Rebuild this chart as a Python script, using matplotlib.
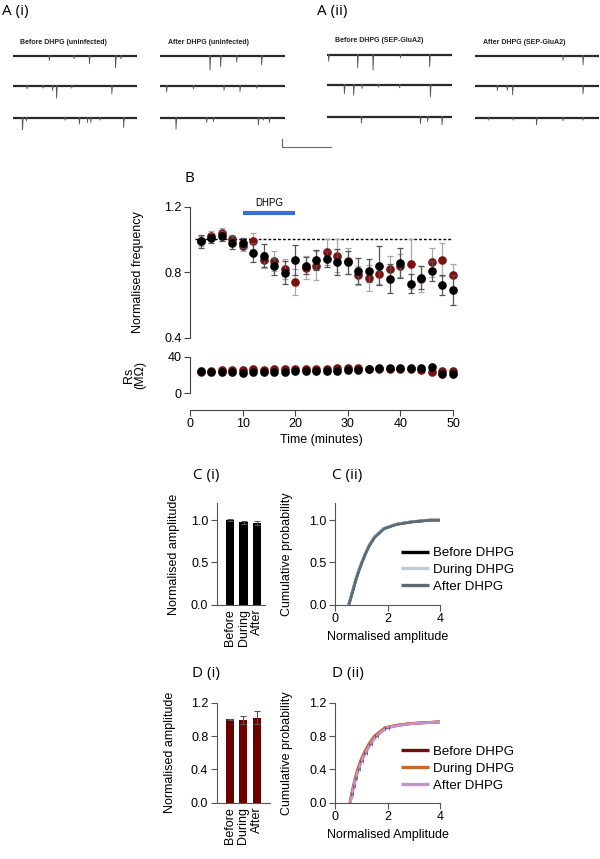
import matplotlib
matplotlib.use('Agg')
import matplotlib.pyplot as plt
import numpy as np

plt.rcParams['font.family'] = ['Liberation Sans', 'DejaVu Sans']
plt.rcParams['axes.linewidth'] = 0.8

W, H = 600, 859
fig = plt.figure(figsize=(6, 8.59), dpi=100)


def rect(l, t, r, b):
    return [l / W, 1 - b / H, (r - l) / W, (b - t) / H]


# ---------------- DATA ----------------
# Panel A: synaptic events per sweep (position within sweep 0-1, amplitude in pA)
a1_before = [
    [(0.292, 15), (0.492, 10), (0.616, 25), (0.827, 37), (0.870, 10)],
    [(0.114, 10), (0.243, 8), (0.319, 15), (0.351, 38), (0.473, 8), (0.797, 25)],
    [(0.076, 47), (0.108, 10), (0.419, 8), (0.535, 20), (0.600, 15), (0.627, 15), (0.703, 8), (0.892, 30)],
]
a1_after = [
    [(0.400, 44), (0.485, 34), (0.613, 20), (0.813, 28)],
    [(0.053, 20), (0.267, 10), (0.512, 15), (0.640, 18), (0.773, 8)],
    [(0.128, 35), (0.373, 15), (0.427, 12), (0.787, 22), (0.827, 8), (0.875, 15)],
]
a2_before = [
    [(0.013, 20), (0.245, 40), (0.368, 47), (0.587, 10), (0.821, 37)],
    [(0.139, 28), (0.213, 32), (0.280, 12), (0.413, 8), (0.581, 10), (0.827, 37)],
    [(0.275, 20), (0.747, 22), (0.805, 15), (0.920, 25)],
]
a2_after = [
    [(0.710, 15), (0.871, 28)],
    [(0.180, 15), (0.260, 15), (0.303, 28), (0.871, 25)],
    [(0.107, 8), (0.308, 8), (0.496, 22), (0.710, 10), (0.871, 8)],
]
trace_titles = ["Before DHPG (uninfected)", "After DHPG (uninfected)",
                "Before DHPG (SEP-GluA2)", "After DHPG (SEP-GluA2)"]
row_offsets = [0, -90, -186]

# Panel B
time_min = [2, 4, 6, 8, 10, 12, 14, 16, 18, 20, 22, 24, 26, 28, 30, 32, 34, 36, 38, 40, 42, 44, 46, 48, 50]
freq_black = [0.99, 1.01, 1.02, 0.98, 0.976, 0.92, 0.90, 0.835, 0.797, 0.874, 0.84, 0.876, 0.88, 0.86,
              0.86, 0.807, 0.81, 0.84, 0.76, 0.856, 0.73, 0.766, 0.807, 0.72, 0.69]
freq_black_err = [0.04, 0.03, 0.03, 0.04, 0.03, 0.06, 0.07, 0.05, 0.07, 0.09, 0.05, 0.06, 0.05, 0.08,
                  0.07, 0.08, 0.07, 0.12, 0.09, 0.09, 0.06, 0.07, 0.06, 0.06, 0.09]
freq_red = [0.99, 1.02, 1.04, 1.00, 0.96, 0.99, 0.874, 0.87, 0.82, 0.74, 0.827, 0.84, 0.925, 0.90,
            0.87, 0.78, 0.766, 0.79, 0.82, 0.84, 0.85, 0.76, 0.86, 0.876, 0.78]
freq_red_err = [0.03, 0.03, 0.03, 0.03, 0.03, 0.05, 0.05, 0.06, 0.06, 0.08, 0.07, 0.09, 0.08, 0.10,
                0.08, 0.06, 0.08, 0.06, 0.08, 0.07, 0.15, 0.08, 0.09, 0.10, 0.07]
rs_black = [24.4, 23.8, 23.0, 22.8, 22.6, 23.3, 23.3, 23.3, 23.8, 24.4, 24.4, 24.4, 24.4, 24.4,
            25.0, 25.9, 27.1, 27.5, 27.8, 27.5, 27.5, 27.8, 28.4, 21.4, 21.4]
rs_black_err = [1.0, 1.0, 1.0, 1.0, 1.0, 1.0, 1.0, 1.0, 1.0, 1.0, 1.0, 1.0, 1.0, 1.0,
                1.2, 1.5, 2.0, 2.5, 2.5, 2.5, 1.5, 1.5, 1.5, 1.2, 1.2]
rs_red = [23.0, 24.4, 25.0, 25.9, 25.9, 26.5, 25.9, 26.5, 26.5, 26.5, 26.8, 26.8, 27.1, 27.5,
          27.8, 27.8, 27.1, 26.8, 26.5, 26.8, 26.5, 25.9, 23.6, 24.7, 24.4]
rs_red_err = [1.0] * 25
dhpg_window = (10, 20)
baseline_level = 1.0

# Panel C (i) / D (i)
bar_labels = ["Before", "During", "After"]
c_amp = [1.0, 0.975, 0.965]
c_amp_err = [0.01, 0.02, 0.025]
d_amp = [1.0, 0.99, 1.02]
d_amp_err = [0.005, 0.05, 0.08]

# Panel C (ii) cumulative distributions
c_prob = [0, 0.1, 0.2, 0.3, 0.4, 0.5, 0.6, 0.7, 0.8, 0.9, 0.95, 0.98, 1.0, 1.0]
c_before = [0.52, 0.62, 0.71, 0.80, 0.90, 1.02, 1.15, 1.30, 1.50, 1.85, 2.30, 2.90, 3.6, 4.0]
c_during = [0.52, 0.61, 0.70, 0.79, 0.89, 1.01, 1.14, 1.29, 1.48, 1.83, 2.28, 2.85, 3.5, 4.0]
c_after = [0.53, 0.62, 0.71, 0.80, 0.91, 1.03, 1.16, 1.31, 1.52, 1.88, 2.35, 2.95, 3.6, 4.0]

# Panel D (ii)
d_prob = [0, 0.1, 0.2, 0.3, 0.4, 0.5, 0.6, 0.7, 0.8, 0.9, 0.93, 0.95, 0.96, 0.97]
d_before = [0.57, 0.64, 0.71, 0.79, 0.88, 0.99, 1.14, 1.32, 1.55, 1.95, 2.4, 2.9, 3.4, 4.0]
d_during = [0.57, 0.63, 0.70, 0.77, 0.86, 0.97, 1.11, 1.28, 1.50, 1.90, 2.35, 2.85, 3.4, 4.0]
d_after = [0.58, 0.65, 0.72, 0.80, 0.90, 1.01, 1.17, 1.35, 1.58, 1.98, 2.5, 3.0, 3.5, 4.0]
d_xerr = [0, 0.03, 0.03, 0.04, 0.04, 0.05, 0.05, 0.06, 0.07, 0.09, 0, 0, 0, 0]

legend_labels = ["Before DHPG", "During DHPG", "After DHPG"]
c_colors = ["#000000", "#b9cde0", "#5d6b78"]
d_colors = ["#6e0e0e", "#c8682a", "#c890cc"]

BLACK = "#000000"
RED = "#7a1212"
FS = 9
PANEL_FONT = ['Open Sans', 'DejaVu Sans']

# ---------------- PANEL A ----------------
trace_cols = [a1_before, a1_after, a2_before, a2_after]
col_rects = [(13, 40, 137, 130), (160, 40, 285, 130), (327, 39, 452, 129), (475, 40, 599, 130)]
title_pos = [(20, 43), (168, 43), (335, 40), (483, 43)]
for events, r, title, tp in zip(trace_cols, col_rects, trace_titles, title_pos):
    ax = fig.add_axes(rect(*r))
    ax.set_xlim(0, 1)
    ax.set_ylim(-223.5, 46.5)
    ax.axis('off')
    for row, off in zip(events, row_offsets):
        ax.plot([0, 1], [off, off], color='#2a2a2a', lw=1.6, solid_capstyle='butt')
        for p, a in row:
            ax.plot([p - 0.002, p, p + 0.006], [off, off - a, off], color='#555555', lw=0.6)
    fig.text(tp[0] / W, 1 - tp[1] / H, title, fontsize=5, fontweight='bold',
             ha='left', va='center', color='#222222')

# scale bar
scale_pa, scale_s = 20, 1
axs = fig.add_axes(rect(282, 139, 331, 147))
axs.set_xlim(0, scale_s)
axs.set_ylim(0, scale_pa)
axs.plot([0, 0, scale_s], [scale_pa, 0, 0], color='#666666', lw=0.8, clip_on=False)
axs.axis('off')

fig.text(2 / W, 1 - 11 / H, "A (i)", fontsize=11, family=PANEL_FONT, ha='left', va='center')
fig.text(317 / W, 1 - 11 / H, "A (ii)", fontsize=11, family=PANEL_FONT, ha='left', va='center')

# ---------------- PANEL B ----------------
axf = fig.add_axes(rect(190, 206.7, 453, 337.7))
axf.set_xlim(0, 50)
axf.set_ylim(0.4, 1.2)
for s in ['top', 'right', 'bottom']:
    axf.spines[s].set_visible(False)
axf.spines['left'].set_color('#444444')
axf.set_xticks([])
axf.set_yticks([0.4, 0.8, 1.2])
axf.set_yticklabels(['0.4', '0.8', '1.2'])
axf.tick_params(axis='y', labelsize=FS, length=4, width=0.8, color='#444444', pad=2)
axf.set_ylabel("Normalised frequency", fontsize=FS)
axf.yaxis.set_label_coords(-0.175, 0.5)
axf.hlines(baseline_level, 1, 50.5, colors='black', linestyles=(0, (2, 1.5)), lw=1.0)
axf.errorbar(time_min, freq_red, yerr=freq_red_err, fmt='o', color=RED, ms=5.2, mec=RED,
             ecolor='#a8a8a8', elinewidth=0.9, capsize=2.5, capthick=0.9, clip_on=False, zorder=3)
axf.errorbar(time_min, freq_black, yerr=freq_black_err, fmt='o', color=BLACK, ms=5.2,
             ecolor='#555555', elinewidth=0.9, capsize=2.5, capthick=0.9, clip_on=False, zorder=4)
axf.plot(dhpg_window, [1.163, 1.163], color='#3a6fd6', lw=3.0, solid_capstyle='butt', clip_on=False)
axf.text(np.mean(dhpg_window), 1.222, "DHPG", fontsize=7, ha='center', va='center')

axr = fig.add_axes(rect(190, 356.7, 453, 393.3))
axr.set_xlim(0, 50)
axr.set_ylim(0, 40)
for s in ['top', 'right']:
    axr.spines[s].set_visible(False)
axr.spines['bottom'].set_position(('outward', 12))
axr.spines['left'].set_color('#444444')
axr.spines['bottom'].set_color('#444444')
axr.set_yticks([0, 40])
axr.set_xticks([0, 10, 20, 30, 40, 50])
axr.tick_params(labelsize=FS, length=4, width=0.8, color='#444444', pad=2)
axr.set_xlabel("Time (minutes)", fontsize=FS, labelpad=3)
axr.set_ylabel("Rs\n(M\u03a9)", fontsize=FS, linespacing=1.0)
axr.yaxis.set_label_coords(-0.165, 0.5)
axr.errorbar(time_min, rs_red, yerr=rs_red_err, fmt='o', color=RED, ms=5.2,
             ecolor='#a8a8a8', elinewidth=0.9, capsize=2.5, clip_on=False, zorder=3)
axr.errorbar(time_min, rs_black, yerr=rs_black_err, fmt='o', color=BLACK, ms=5.2,
             ecolor='#555555', elinewidth=0.9, capsize=2.5, clip_on=False, zorder=4)
fig.text(185 / W, 1 - 179 / H, "B", fontsize=11, family=PANEL_FONT, ha='left', va='center')


# ---------------- PANELS C & D ----------------
def style_axes(ax):
    for s in ['top', 'right']:
        ax.spines[s].set_visible(False)
    for s in ['left', 'bottom']:
        ax.spines[s].set_color('#555555')
    ax.tick_params(labelsize=FS, length=4, width=0.8, color='#555555', pad=2)


def bar_panel(r, vals, errs, color, xmax, yticks):
    ax = fig.add_axes(rect(*r))
    x = np.arange(len(vals))
    ax.bar(x, vals, width=0.62, color=color, yerr=errs, ecolor='#555555',
           error_kw=dict(elinewidth=0.8, capsize=2, capthick=0.8))
    ax.set_xlim(-1, xmax)
    ax.set_ylim(0, 1.2)
    style_axes(ax)
    ax.set_yticks(yticks)
    ax.set_yticklabels([f"{v:.1f}" for v in yticks])
    ax.set_xticks(x)
    ax.set_xticklabels(bar_labels, rotation=90, fontsize=FS)
    ax.tick_params(axis='x', length=0, pad=3)
    ax.set_ylabel("Normalised amplitude", fontsize=FS)
    ax.yaxis.set_label_coords(-0.76, 0.5)
    return ax


def cum_panel(r, xs_list, prob, colors, yticks, xlabel, errx=None):
    ax = fig.add_axes(rect(*r))
    for xs, c, lab in zip(xs_list, colors, legend_labels):
        ax.plot(xs, prob, color=c, lw=2.0, label=lab, solid_capstyle='butt')
    if errx is not None:
        ax.errorbar(xs_list[2][1:10], prob[1:10], xerr=errx[1:10], fmt='none', ecolor='#555555',
                    elinewidth=0.5, capsize=1.2, capthick=0.5, zorder=5)
    ax.set_xlim(0, 4)
    ax.set_ylim(0, 1.2)
    style_axes(ax)
    ax.set_xticks([0, 2, 4])
    ax.set_yticks(yticks)
    ax.set_yticklabels([f"{v:.1f}" for v in yticks])
    ax.set_ylabel("Cumulative probability", fontsize=FS)
    ax.yaxis.set_label_coords(-0.4, 0.5)
    ax.set_xlabel(xlabel, fontsize=FS, labelpad=4)
    leg = ax.legend(loc='upper left', bbox_to_anchor=(0.63, 0.57), frameon=False, fontsize=9.5,
                    handlelength=2.1, handletextpad=0.3, labelspacing=0.35, borderpad=0,
                    borderaxespad=0)
    for line in leg.get_lines():
        line.set_linewidth(2.4)
    return ax


bar_panel((216.7, 503.3, 265, 604.7), c_amp, c_amp_err, BLACK, 2.6, [0.0, 0.5, 1.0])
cum_panel((335, 503.3, 440, 604.7), [c_before, c_during, c_after], c_prob, c_colors,
          [0.0, 0.5, 1.0], "Normalised amplitude")
bar_panel((216.7, 702.7, 270, 802.7), d_amp, d_amp_err, "#6b0000", 3.0, [0.0, 0.4, 0.8, 1.2])
cum_panel((335, 702.7, 440, 802.7), [d_before, d_during, d_after], d_prob, d_colors,
          [0.0, 0.4, 0.8, 1.2], "Normalised Amplitude", errx=d_xerr)

fig.text(193 / W, 1 - 476 / H, "C (i)", fontsize=11, family=PANEL_FONT, ha='left', va='center')
fig.text(332 / W, 1 - 476 / H, "C (ii)", fontsize=11, family=PANEL_FONT, ha='left', va='center')
fig.text(192 / W, 1 - 673 / H, "D (i)", fontsize=11, family=PANEL_FONT, ha='left', va='center')
fig.text(332 / W, 1 - 673 / H, "D (ii)", fontsize=11, family=PANEL_FONT, ha='left', va='center')

fig.savefig("out.png", dpi=100, facecolor='white')
